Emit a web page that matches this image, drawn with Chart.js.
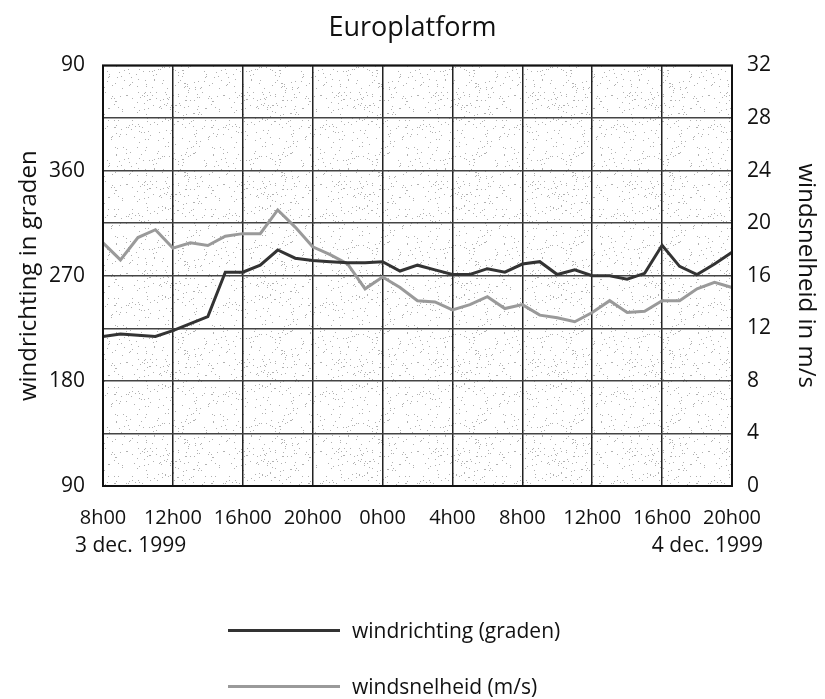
<!DOCTYPE html>
<html>
<head>
<meta charset="utf-8">
<script src="https://cdn.jsdelivr.net/npm/chart.js@4.4.1/dist/chart.umd.min.js"></script>
<style>
  body { margin: 0; background: #fff; }
  #wrap { position: relative; width: 825px; height: 699px; font-family: 'Open Sans', sans-serif; color: #111; }
  .leg { position: absolute; left: 228px; height: 30px; display: flex; align-items: center; font-size: 21px; }
  .leg span.ln { display: inline-block; width: 112px; height: 3px; margin-right: 12px; }
</style>
</head>
<body>
<div id="wrap">
  <canvas id="myChart" width="825" height="699"></canvas>
  <div class="leg" style="top:615px"><span class="ln" style="background:#333"></span>windrichting (graden)</div>
  <div class="leg" style="top:671px"><span class="ln" style="background:#9a9a9a"></span>windsnelheid (m/s)</div>
</div>
<script>
// uren van 8h00 (3 dec.) tot 20h00 (4 dec.)
const hourLabels = [
    '8h00', '9h00', '10h00', '11h00', '12h00', '13h00', '14h00', '15h00',
    '16h00', '17h00', '18h00', '19h00', '20h00', '21h00', '22h00', '23h00',
    '0h00', '1h00', '2h00', '3h00', '4h00', '5h00', '6h00', '7h00',
    '8h00', '9h00', '10h00', '11h00', '12h00', '13h00', '14h00', '15h00',
    '16h00', '17h00', '18h00', '19h00', '20h00'
];
// windrichting in graden
const windrichting = [
    218, 220, 219, 218, 223, 229, 235, 273, 273, 279, 292, 285, 283,
    282, 281, 281, 282, 274, 279, 275, 271, 271, 276, 273, 280, 282,
    271, 275, 270, 270, 267, 272, 296, 278, 271, 280, 290
];
// windsnelheid in m/s
const windsnelheid = [
    18.5, 17.2, 18.9, 19.5, 18.1, 18.5, 18.3, 19.0, 19.2, 19.2, 21.0, 19.7, 18.2,
    17.6, 16.9, 15.0, 15.9, 15.1, 14.1, 14.0, 13.4, 13.8, 14.4, 13.5, 13.8, 13.0,
    12.8, 12.5, 13.2, 14.1, 13.2, 13.3, 14.1, 14.1, 15.0, 15.5, 15.1
];
const dateLeft = '3 dec. 1999';
const dateRight = '4 dec. 1999';

const FONT = "'Open Sans', sans-serif";

// gestippelde achtergrond van het plotvlak
function makeStipple() {
    const c = document.createElement('canvas');
    c.width = 97; c.height = 89;
    const g = c.getContext('2d');
    g.fillStyle = '#fff';
    g.fillRect(0, 0, c.width, c.height);
    g.fillStyle = 'rgba(100,100,100,0.5)';
    let s = 4711;
    for (let i = 0; i < 260; i++) {
        s = (s * 16807) % 2147483647;
        const x = s % c.width;
        s = (s * 16807) % 2147483647;
        const y = s % c.height;
        g.fillRect(x, y, 1, 1);
    }
    return c;
}

const stipplePlugin = {
    id: 'stipple',
    beforeDraw(chart) {
        const { ctx, chartArea: a } = chart;
        ctx.save();
        ctx.fillStyle = ctx.createPattern(makeStipple(), 'repeat');
        ctx.fillRect(a.left, a.top, a.right - a.left, a.bottom - a.top);
        ctx.restore();
    },
    afterDraw(chart) {
        const { ctx, chartArea: a } = chart;
        ctx.save();
        // kader
        ctx.strokeStyle = '#111';
        ctx.lineWidth = 2;
        ctx.strokeRect(a.left, a.top, a.right - a.left, a.bottom - a.top);
        // datums onder de as
        ctx.fillStyle = '#111';
        ctx.font = '21px ' + FONT;
        ctx.textBaseline = 'middle';
        ctx.textAlign = 'left';
        ctx.fillText(dateLeft, a.left - 28, 546);
        ctx.textAlign = 'right';
        ctx.fillText(dateRight, a.right + 31, 546);
        ctx.restore();
    }
};

const ctx = document.getElementById('myChart').getContext('2d');
const myChart = new Chart(ctx, {
    type: 'line',
    data: {
        labels: hourLabels,
        datasets: [{
            label: 'windrichting (graden)',
            data: windrichting,
            yAxisID: 'y',
            borderColor: '#333',
            borderWidth: 3,
            pointRadius: 0,
            tension: 0
        }, {
            label: 'windsnelheid (m/s)',
            data: windsnelheid,
            yAxisID: 'y2',
            borderColor: '#9a9a9a',
            borderWidth: 3,
            pointRadius: 0,
            tension: 0
        }]
    },
    options: {
        responsive: false,
        animation: false,
        layout: { padding: { left: 0, right: 0, top: 0, bottom: 149 } },
        plugins: {
            legend: { display: false },
            tooltip: { enabled: false },
            title: {
                display: true,
                text: 'Europlatform',
                color: '#111',
                font: { family: FONT, size: 27, weight: 'normal' },
                padding: { top: 12, bottom: 21 }
            }
        },
        scales: {
            x: {
                offset: false,
                border: { display: false },
                grid: {
                    drawTicks: false,
                    lineWidth: 1.5,
                    color: c => (c.index % 4 === 0 ? '#222' : 'rgba(0,0,0,0)')
                },
                ticks: {
                    autoSkip: false,
                    maxRotation: 0,
                    padding: 20,
                    color: '#111',
                    font: { family: FONT, size: 20 },
                    callback: function (v, i) { return i % 4 === 0 ? hourLabels[i] : ''; }
                }
            },
            y: {
                position: 'left',
                min: 90,
                max: 450,
                border: { display: false },
                grid: { display: false },
                ticks: {
                    stepSize: 90,
                    padding: 10,
                    color: '#111',
                    font: { family: FONT, size: 21 },
                    callback: v => (v % 360 === 0 ? 360 : v % 360)
                },
                title: {
                    display: true,
                    text: 'windrichting in graden',
                    color: '#111',
                    font: { family: FONT, size: 24 },
                    padding: { top: 15, bottom: 0 }
                },
                afterFit: s => { s.width = 103; }
            },
            y2: {
                position: 'right',
                min: 0,
                max: 32,
                border: { display: false },
                grid: { drawTicks: false, lineWidth: 1.5, color: '#444' },
                ticks: {
                    stepSize: 4,
                    padding: 15,
                    color: '#111',
                    font: { family: FONT, size: 21 }
                },
                title: {
                    display: true,
                    text: 'windsnelheid in m/s',
                    color: '#111',
                    font: { family: FONT, size: 24 },
                    padding: { top: 5, bottom: 0 }
                },
                afterFit: s => { s.width = 93; }
            }
        }
    },
    plugins: [stipplePlugin]
});
</script>
</body>
</html>
